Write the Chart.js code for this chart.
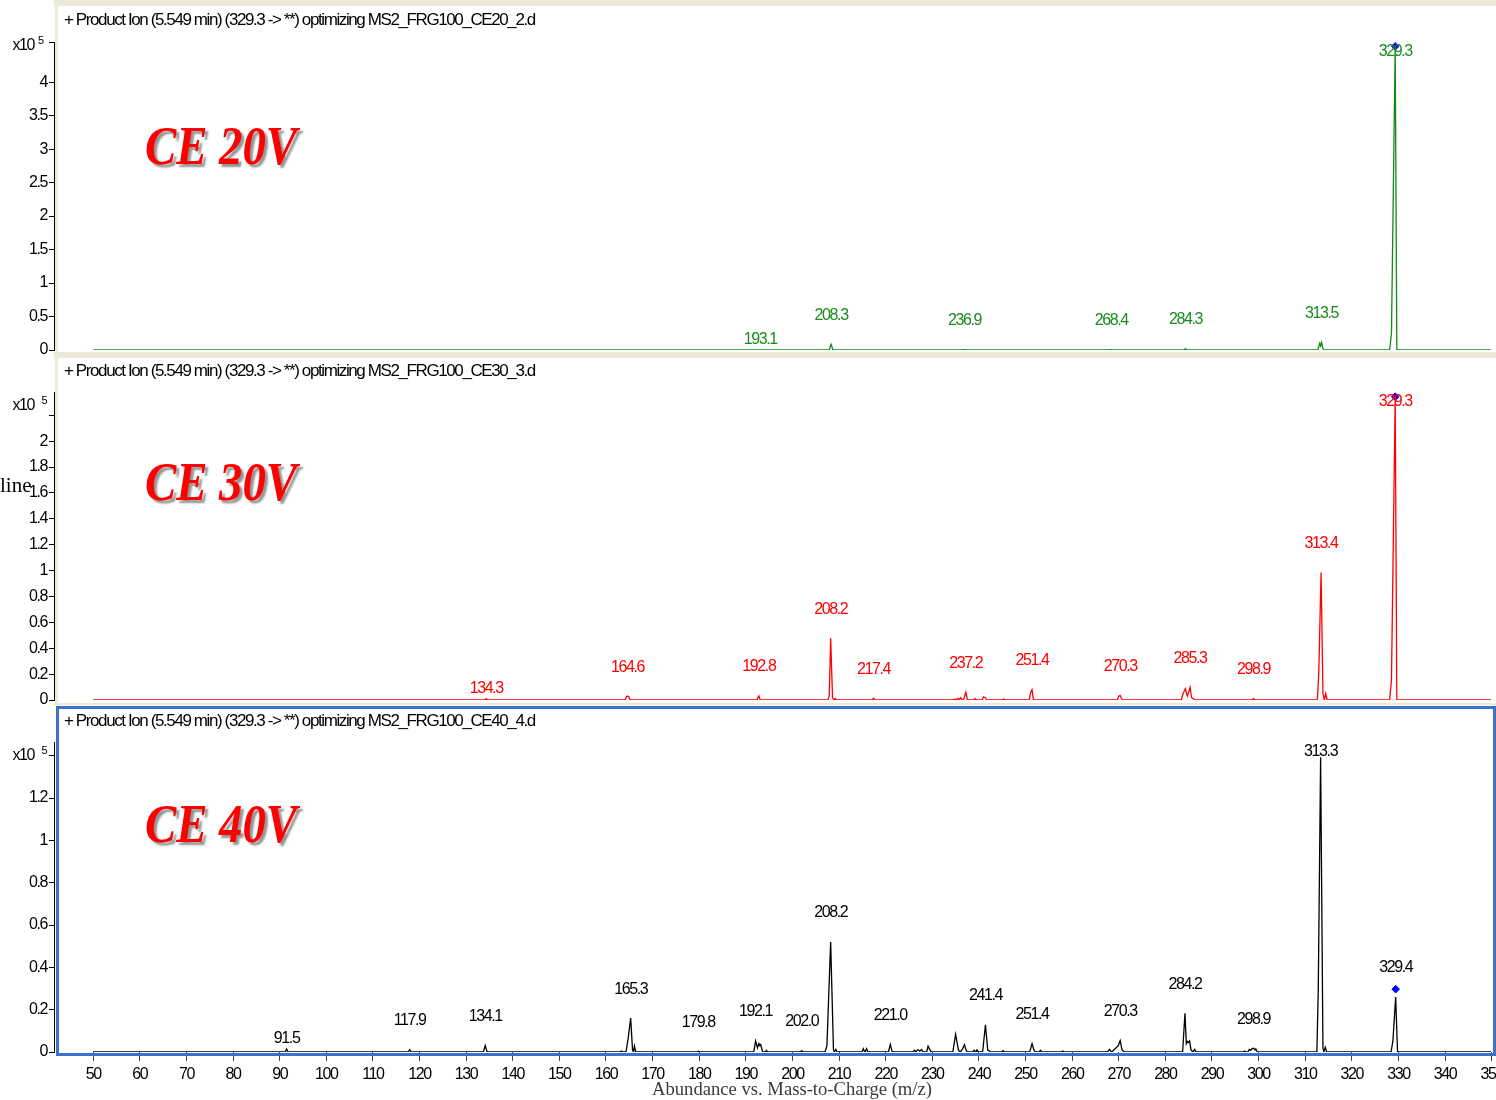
<!DOCTYPE html>
<html>
<head>
<meta charset="utf-8">
<title>Product Ion spectra, CE 20/30/40 V</title>
<script src="https://cdn.jsdelivr.net/npm/chart.js@4.4.1/dist/chart.umd.min.js"></script>
<style>
  html, body { margin: 0; padding: 0; background: #ffffff; }
  #wrap { position: relative; width: 1496px; height: 1100px; overflow: hidden; }
  #wrap canvas { position: absolute; left: 0; }
</style>
</head>
<body>
<div id="wrap">
  <canvas id="ce20" width="1496" height="355" style="top:0px;width:1496px;height:355px"></canvas>
  <canvas id="ce30" width="1496" height="350" style="top:355px;width:1496px;height:350px"></canvas>
  <canvas id="ce40" width="1496" height="395" style="top:705px;width:1496px;height:395px"></canvas>
</div>
<script>
// ---------------------------------------------------------------------------
// Spectra: [m/z, abundance] profile points, abundance in units of 10^5 counts
// ---------------------------------------------------------------------------
const ce20Profile = [
  [50, 0],
  [192.8, 0], [193.1, 0.006], [193.4, 0],
  [207.9, 0], [208.3, 0.085], [208.7, 0],
  [236.6, 0], [236.9, 0.004], [237.2, 0],
  [268.1, 0], [268.4, 0.004], [268.7, 0],
  [284.0, 0], [284.3, 0.02], [284.6, 0],
  [312.7, 0], [313.1, 0.1], [313.3, 0.06], [313.5, 0.115], [313.8, 0.02], [314.1, 0],
  [328.1, 0], [328.5, 0.25], [329.3, 4.535], [329.65, 0],
  [350, 0]
];

const ce30Profile = [
  [50, 0],
  [134.0, 0], [134.3, 0.01], [134.6, 0],
  [164.1, 0], [164.4, 0.025], [164.6, 0.03], [164.9, 0.025], [165.2, 0],
  [192.4, 0], [192.6, 0.02], [192.8, 0.032], [193.1, 0],
  [207.6, 0], [207.9, 0.03], [208.2, 0.478], [208.6, 0.02], [208.9, 0], [209.2, 0.012], [209.5, 0],
  [217.1, 0], [217.4, 0.013], [217.7, 0],
  [234.6, 0], [234.9, 0.008], [235.2, 0], [235.5, 0.012], [235.8, 0.004], [236.1, 0.018],
  [236.4, 0], [236.8, 0.01], [237.2, 0.06], [237.5, 0.008], [237.9, 0],
  [238.9, 0], [239.2, 0.01], [239.5, 0],
  [240.7, 0], [241.0, 0.025], [241.4, 0.018], [241.7, 0],
  [245.0, 0], [245.3, 0.008], [245.6, 0],
  [250.8, 0], [251.1, 0.06], [251.4, 0.08], [251.7, 0],
  [269.7, 0], [270.0, 0.03], [270.3, 0.036], [270.6, 0.01], [270.9, 0],
  [283.4, 0], [283.8, 0.05], [284.3, 0.087], [284.7, 0.03], [285.0, 0.06], [285.3, 0.097],
  [285.6, 0.02], [286.0, 0.01], [286.3, 0],
  [298.5, 0], [298.9, 0.01], [299.2, 0],
  [312.6, 0], [312.9, 0.2], [313.4, 0.985], [313.8, 0.05], [314.1, 0], [314.4, 0.05], [314.7, 0],
  [328.1, 0], [328.5, 0.15], [329.3, 2.344], [329.65, 0],
  [350, 0]
];

const ce40Profile = [
  [50, 0],
  [91.2, 0], [91.5, 0.014], [91.8, 0],
  [117.6, 0], [117.9, 0.011], [118.2, 0],
  [133.7, 0], [134.1, 0.03], [134.5, 0],
  [163.0, 0], [163.3, 0.005], [163.6, 0],
  [164.3, 0], [164.8, 0.07], [165.3, 0.16], [165.7, 0.01], [165.9, 0], [166.1, 0.028], [166.4, 0],
  [179.5, 0], [179.8, 0.004], [180.1, 0],
  [191.7, 0], [192.1, 0.052], [192.5, 0.02], [192.8, 0.04], [193.0, 0.03], [193.2, 0.035], [193.6, 0],
  [194.2, 0], [194.4, 0.008], [194.7, 0],
  [201.7, 0], [202.0, 0.006], [202.3, 0],
  [207.0, 0], [207.4, 0.03], [208.2, 0.52], [208.8, 0.01], [209.0, 0], [209.3, 0.012], [209.6, 0],
  [214.9, 0], [215.2, 0.016], [215.5, 0], [215.6, 0], [215.9, 0.016], [216.2, 0],
  [220.6, 0], [221.0, 0.036], [221.4, 0],
  [225.9, 0], [226.2, 0.008], [226.5, 0], [226.8, 0.01], [227.0, 0.01], [227.3, 0.004],
  [227.7, 0.012], [228.0, 0], [228.8, 0], [229.1, 0.028], [229.5, 0.01], [229.8, 0],
  [234.4, 0], [235.0, 0.083], [235.6, 0.01], [236.0, 0], [236.5, 0.015], [236.9, 0.035],
  [237.3, 0.005], [237.6, 0],
  [238.7, 0], [239.0, 0.008], [239.3, 0], [239.4, 0], [239.6, 0.01], [239.9, 0],
  [240.8, 0], [241.4, 0.128], [241.9, 0.008], [242.2, 0.006], [242.5, 0],
  [244.9, 0], [245.2, 0.006], [245.5, 0],
  [250.9, 0], [251.4, 0.04], [251.8, 0.01], [252.1, 0],
  [252.9, 0], [253.2, 0.008], [253.5, 0],
  [257.7, 0], [258.0, 0.005], [258.3, 0],
  [267.6, 0], [268.0, 0.012], [268.3, 0.003], [268.5, 0], [269.9, 0.03], [270.3, 0.054],
  [270.7, 0.01], [271.0, 0.004], [271.3, 0],
  [283.7, 0], [284.2, 0.183], [284.5, 0.04], [284.7, 0.05], [284.9, 0.045], [285.2, 0.052],
  [285.5, 0.01], [285.9, 0], [286.3, 0.012], [286.6, 0],
  [296.7, 0], [297.0, 0.005], [297.3, 0], [297.7, 0], [298.0, 0.012], [298.3, 0.008],
  [298.6, 0.016], [298.9, 0.018], [299.2, 0.01], [299.4, 0.015], [299.7, 0],
  [312.5, 0], [312.8, 0.3], [313.3, 1.393], [313.8, 0.02], [314.0, 0], [314.3, 0.022], [314.6, 0],
  [328.4, 0], [328.8, 0.05], [329.4, 0.26], [329.8, 0],
  [350, 0]
];

// Precursor ion marker [m/z, abundance]
const ce20Precursor = [329.3, 4.535];
const ce30Precursor = [329.3, 2.344];
const ce40Precursor = [329.4, 0.297];

// Annotated peaks
const ce20Labels = ['193.1', '208.3', '236.9', '268.4', '284.3', '313.5', '329.3'];
const ce30Labels = ['134.3', '164.6', '192.8', '208.2', '217.4', '237.2', '251.4', '270.3',
                    '285.3', '298.9', '313.4', '329.3'];
const ce40Labels = ['91.5', '117.9', '134.1', '165.3', '179.8', '192.1', '202.0', '208.2',
                    '221.0', '241.4', '251.4', '270.3', '284.2', '298.9', '313.3', '329.4'];

// Axis ticks (the last y tick of each panel carries the x10^5 exponent)
const ce20YTicks = [0, 0.5, 1, 1.5, 2, 2.5, 3, 3.5, 4, 4.6];
const ce30YTicks = [0, 0.2, 0.4, 0.6, 0.8, 1, 1.2, 1.4, 1.6, 1.8, 2, 2.2];
const ce40YTicks = [0, 0.2, 0.4, 0.6, 0.8, 1, 1.2, 1.4];
const mzTicks = [50, 60, 70, 80, 90, 100, 110, 120, 130, 140, 150, 160, 170, 180, 190, 200,
                 210, 220, 230, 240, 250, 260, 270, 280, 290, 300, 310, 320, 330, 340, 350];

const ce20Header = '+ Product Ion (5.549 min) (329.3 -> **) optimizing MS2_FRG100_CE20_2.d';
const ce30Header = '+ Product Ion (5.549 min) (329.3 -> **) optimizing MS2_FRG100_CE30_3.d';
const ce40Header = '+ Product Ion (5.549 min) (329.3 -> **) optimizing MS2_FRG100_CE40_4.d';
const xTitle = 'Abundance vs. Mass-to-Charge (m/z)';

// ---------------------------------------------------------------------------
// Fonts
// ---------------------------------------------------------------------------
function fontAvailable(name) {
  const c = document.createElement('canvas').getContext('2d');
  const probe = 'mwil0123456789.x';
  c.font = '40px monospace';
  const a = c.measureText(probe).width;
  c.font = '40px "' + name + '", monospace';
  return c.measureText(probe).width !== a;
}
const HAS_NARROW = fontAvailable('Liberation Sans Narrow');
const SANS = HAS_NARROW
  ? '"Liberation Sans Narrow", "Liberation Sans", Arial, sans-serif'
  : '"Liberation Sans", Arial, sans-serif';
const TRACK = HAS_NARROW ? '0px' : '-1.4px';
const SERIF = '"Liberation Serif", "Times New Roman", serif';

const BEIGE = '#ECE9D8';
const FRAME_BLUE = '#3b72cc';

// ---------------------------------------------------------------------------
// Drawing helpers
// ---------------------------------------------------------------------------
function apexOf(profile, mz) {
  let best = 0;
  for (const [x, y] of profile) {
    if (Math.abs(x - mz) <= 0.35 && y > best) best = y;
  }
  return best;
}

function makePanelPlugin(p) {
  return {
    id: 'panelDecor_' + p.id,
    beforeDraw(chart) {
      const ctx = chart.ctx;
      const W = chart.width, H = chart.height;
      ctx.save();
      ctx.letterSpacing = '0px';
      ctx.fillStyle = '#ffffff';
      ctx.fillRect(0, 0, W, H);
      ctx.fillStyle = BEIGE;
      for (const r of p.beige) ctx.fillRect(r[0], r[1], r[2], r[3]);
      ctx.restore();
      ctx.letterSpacing = TRACK;
    },
    afterDatasetsDraw(chart) {
      const ctx = chart.ctx;
      const xs = chart.scales.x, ys = chart.scales.y;
      const area = chart.chartArea;
      ctx.save();
      ctx.letterSpacing = TRACK;
      ctx.font = '16px ' + SANS;
      ctx.fillStyle = p.labelColor;
      ctx.textAlign = 'center';
      ctx.textBaseline = 'middle';
      p.labels.forEach((txt, i) => {
        const mz = parseFloat(txt);
        const px = xs.getPixelForValue(mz);
        const py = ys.getPixelForValue(apexOf(p.profile, mz));
        const lift = i === 0 ? 10 : 29;
        const cy = Math.max(py - lift, area.top + 10);
        ctx.fillText(txt, px, cy);
      });
      ctx.restore();
    },
    afterDraw(chart) {
      const ctx = chart.ctx;
      const area = chart.chartArea;
      ctx.save();
      // header line
      ctx.letterSpacing = TRACK;
      ctx.font = '17px ' + SANS;
      ctx.fillStyle = '#000000';
      ctx.textAlign = 'left';
      ctx.textBaseline = 'middle';
      ctx.fillText(p.header, 64, p.headerY);

      // exponent at the top of the abundance axis
      ctx.font = '16px ' + SANS;
      ctx.fillText('x10', 12.5, area.top + p.expDy);
      ctx.font = '11px ' + SANS;
      ctx.fillText('5', p.expX, area.top + p.expDy - 5);

      // collision energy tag
      ctx.letterSpacing = '0px';
      ctx.font = 'italic bold 54px ' + SERIF;
      const w = ctx.measureText(p.tag).width;
      ctx.translate(145, p.tagBaseline);
      ctx.scale(152 / w, 1);
      ctx.shadowColor = 'rgba(60,60,60,0.55)';
      ctx.shadowOffsetX = 3;
      ctx.shadowOffsetY = 3;
      ctx.shadowBlur = 2;
      ctx.fillStyle = '#ff0000';
      ctx.textBaseline = 'alphabetic';
      ctx.fillText(p.tag, 0, 0);
      ctx.restore();

      if (p.sideLabel) {
        ctx.save();
        ctx.letterSpacing = '0px';
        ctx.font = '21px ' + SERIF;
        ctx.fillStyle = '#000000';
        ctx.textAlign = 'left';
        ctx.textBaseline = 'middle';
        ctx.fillText(p.sideLabel, 0, 131);
        ctx.restore();
      }

      if (p.blueFrame) {
        ctx.save();
        ctx.strokeStyle = FRAME_BLUE;
        ctx.lineWidth = 3;
        ctx.strokeRect(57.5, 2.5, 1437, 347);
        ctx.restore();
      }

      if (p.title) {
        ctx.save();
        ctx.letterSpacing = '0px';
        ctx.font = '18px ' + SERIF;
        const tw = ctx.measureText(p.title).width;
        ctx.translate(792, 385);
        ctx.scale(280 / tw, 1);
        ctx.fillStyle = '#3a3a3a';
        ctx.textAlign = 'center';
        ctx.textBaseline = 'middle';
        ctx.fillText(p.title, 0, 0);
        ctx.restore();
      }
      ctx.letterSpacing = TRACK;
    }
  };
}

function buildPanel(p) {
  const yTickValues = p.yTicks;
  const topTick = yTickValues[yTickValues.length - 1];
  return new Chart(document.getElementById(p.id), {
    type: 'line',
    data: {
      datasets: [
        {
          data: [{ x: p.precursor[0], y: p.precursor[1] }],
          showLine: false,
          pointStyle: 'rectRot',
          pointRadius: 3.8,
          pointBackgroundColor: '#0000ff',
          pointBorderColor: '#0000ff',
          pointBorderWidth: 1
        },
        {
          data: p.profile.map(([x, y]) => ({ x, y })),
          borderColor: p.color,
          borderWidth: 1.3,
          pointRadius: 0,
          tension: 0,
          fill: false
        }
      ]
    },
    options: {
      responsive: false,
      animation: false,
      devicePixelRatio: 1,
      events: [],
      layout: { padding: { top: p.padTop, bottom: p.padBottom, left: 0, right: 2 } },
      plugins: { legend: { display: false }, tooltip: { enabled: false }, title: { display: false } },
      scales: {
        x: {
          type: 'linear',
          min: 41.6,
          max: 349.85,
          display: p.showX,
          afterBuildTicks: (s) => { s.ticks = mzTicks.map(v => ({ value: v })); },
          afterFit: (s) => {
            if (p.showX) { s.height = 48; }
            s.paddingLeft = 0; s.paddingRight = 0;
          },
          grid: { display: true, drawOnChartArea: false, drawTicks: true, tickLength: 9, color: '#444444', lineWidth: 1 },
          border: { display: false },
          ticks: {
            autoSkip: false,
            maxRotation: 0,
            minRotation: 0,
            padding: 4,
            color: '#000000',
            font: { family: SANS, size: 16 },
            callback: (v) => String(v)
          }
        },
        y: {
          type: 'linear',
          min: 0,
          max: p.yMax,
          afterBuildTicks: (s) => { s.ticks = yTickValues.map(v => ({ value: v })); },
          afterFit: (s) => { s.width = 54; s.paddingTop = 0; s.paddingBottom = 0; },
          grid: { display: true, drawOnChartArea: false, drawTicks: true, tickLength: 5, color: '#000000', lineWidth: 1 },
          border: { display: true, color: '#000000', width: 1 },
          ticks: {
            padding: 2,
            color: '#000000',
            font: { family: SANS, size: 16 },
            callback: (v) => (v === topTick ? '' : String(+Number(v).toFixed(1)))
          }
        }
      }
    },
    plugins: [makePanelPlugin(p)]
  });
}

Chart.defaults.font.family = SANS;

buildPanel({
  id: 'ce20', profile: ce20Profile, precursor: ce20Precursor, labels: ce20Labels,
  yTicks: ce20YTicks, yMax: 4.6, color: '#138a13', labelColor: '#1c8a1c',
  header: ce20Header, headerY: 20, tag: 'CE 20V', tagBaseline: 164,
  padTop: 42, padBottom: 4, showX: false, expDy: 4, expX: 38,
  beige: [[54, 0, 1442, 6], [55, 0, 3, 355], [54, 352, 1442, 3]]
});

buildPanel({
  id: 'ce30', profile: ce30Profile, precursor: ce30Precursor, labels: ce30Labels,
  yTicks: ce30YTicks, yMax: 2.38, color: '#ff0000', labelColor: '#ff0000',
  header: ce30Header, headerY: 16, tag: 'CE 30V', tagBaseline: 145,
  padTop: 37, padBottom: 3, showX: false, expDy: 14, expX: 41.5, sideLabel: 'line',
  beige: [[54, 0, 1442, 3], [55, 0, 3, 350], [54, 348, 1442, 2]]
});

buildPanel({
  id: 'ce40', profile: ce40Profile, precursor: ce40Precursor, labels: ce40Labels,
  yTicks: ce40YTicks, yMax: 1.465, color: '#000000', labelColor: '#000000',
  header: ce40Header, headerY: 16, tag: 'CE 40V', tagBaseline: 137,
  padTop: 37, padBottom: 0, showX: true, expDy: 14, expX: 41.5,
  blueFrame: true, title: xTitle,
  beige: []
});
</script>
</body>
</html>
